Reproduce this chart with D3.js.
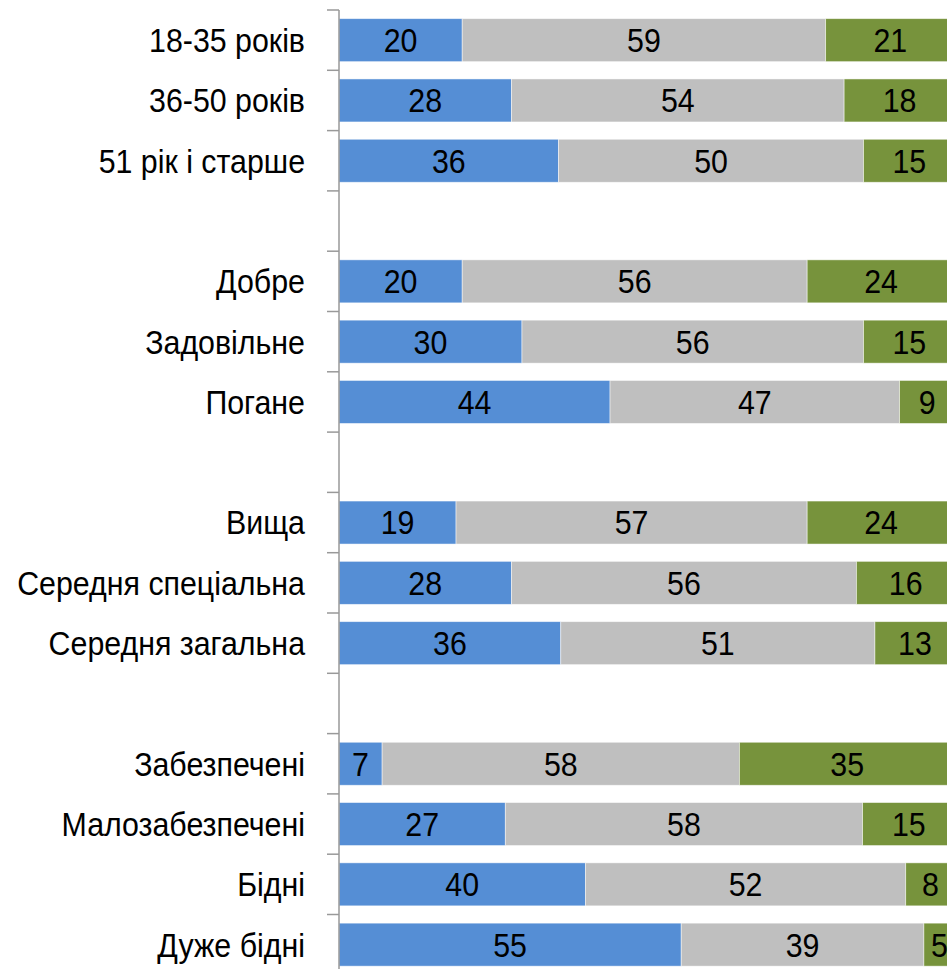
<!DOCTYPE html>
<html><head><meta charset="utf-8">
<script src="https://cdn.jsdelivr.net/npm/d3@7"></script>
<style>
html,body{margin:0;padding:0;background:#fff;overflow:hidden;}
text{font-family:"Liberation Sans",Arial,sans-serif;}
</style></head>
<body><svg id="chart" width="947" height="969"></svg>
<script>
const categories = ["18-35 років","36-50 років","51 рік і старше","gap1",
  "Добре","Задовільне","Погане","gap2",
  "Вища","Середня спеціальна","Середня загальна","gap3",
  "Забезпечені","Малозабезпечені","Бідні","Дуже бідні"];
const seriesA = [20,28,36,null,20,30,44,null,19,28,36,null,7,27,40,55];
const seriesB = [59,54,50,null,56,56,47,null,57,56,51,null,58,58,52,39];
const seriesC = [21,18,15,null,24,15,9,null,24,16,13,null,35,15,8,5];
const seriesKeys = ["a","b","c"];
const colors = ["#558ED5","#BFBFBF","#77933C"];

const svg = d3.select("#chart");
const FS = 33, SX = 0.92;
const rows = categories.map((c,i)=>({cat:c, a:seriesA[i]||0, b:seriesB[i]||0, c:seriesC[i]||0, gap:seriesA[i]==null}));
const stack = d3.stack().keys(seriesKeys).offset(d3.stackOffsetExpand);
const stacked = stack(rows.filter(r=>!r.gap));

const step = 60.3;
const y = d3.scaleBand().domain(categories).range([10, 10+16*step]).paddingInner(0.287).paddingOuter(0.1435);
const x = d3.scaleLinear().domain([0,1]).range([339, 955]);

stacked.forEach((s,si)=>{
  svg.append("g").selectAll("rect").data(s).join("rect")
    .attr("x", d=>x(d[0])).attr("width", d=>x(d[1])-x(d[0]))
    .attr("y", d=>y(d.data.cat)).attr("height", y.bandwidth())
    .attr("fill", colors[si]).attr("stroke","#fff").attr("stroke-opacity",0.6).attr("stroke-width",0.8);
  svg.append("g").selectAll("text").data(s).join("text")
    .attr("transform", d=>`translate(${(x(d[0])+x(d[1]))/2},${y(d.data.cat)+y.bandwidth()/2}) scale(${SX},1)`)
    .attr("text-anchor","middle").attr("dy","0.36em")
    .attr("font-size",FS).attr("fill","#000")
    .text(d=>d.data[seriesKeys[si]]);
});

// axis
const axis = d3.axisLeft(y).tickSize(0).tickPadding(0).tickFormat(d=>d.startsWith("gap")?"":d);
const ag = svg.append("g").attr("transform","translate(339,0)").call(axis);
ag.select(".domain").remove();
ag.selectAll("text").attr("font-size",FS).attr("fill","#000")
  .attr("font-family","'Liberation Sans',Arial,sans-serif")
  .each(function(){
    d3.select(this).attr("x",null).attr("dy","0.36em")
     .attr("transform",`translate(-34,0) scale(${SX},1)`);
  });
svg.append("line").attr("x1",339).attr("x2",339).attr("y1",10).attr("y2",10+16*step)
  .attr("stroke","#999").attr("stroke-width",1.5);
const ticks = d3.range(17).map(i=>10+i*step);
svg.append("g").selectAll("line").data(ticks).join("line")
  .attr("x1",327).attr("x2",339).attr("y1",d=>d).attr("y2",d=>d)
  .attr("stroke","#999").attr("stroke-width",1.5);
</script></body></html>
